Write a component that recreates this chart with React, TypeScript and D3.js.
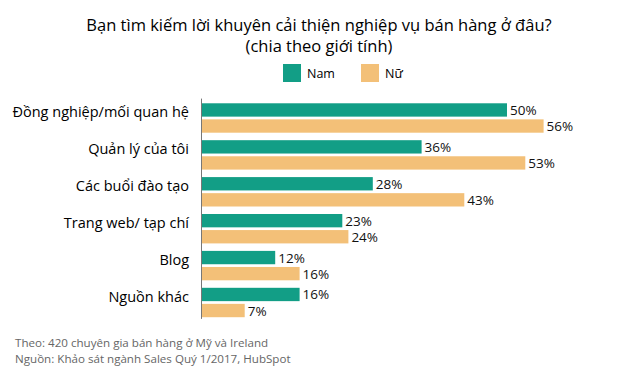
import React from "react";
import * as d3 from "d3";

const categories = [
  "Đồng nghiệp/mối quan hệ",
  "Quản lý của tôi",
  "Các buổi đào tạo",
  "Trang web/ tạp chí",
  "Blog",
  "Nguồn khác",
];
const series = ["Nam", "Nữ"];
const namValues = [50, 36, 28, 23, 12, 16];
const nuValues = [56, 53, 43, 24, 16, 7];
const colors = ["#129e86", "#f3c078"];

const titleLines = [
  "Bạn tìm kiếm lời khuyên cải thiện nghiệp vụ bán hàng ở đâu?",
  "(chia theo giới tính)",
];
const footerLines = [
  "Theo: 420 chuyên gia bán hàng ở Mỹ và Ireland",
  "Nguồn: Khảo sát ngành Sales Quý 1/2017, HubSpot",
];

const W = 630;
const H = 382;
const FONT = "'Open Sans', 'Noto Sans', sans-serif";

export default function App() {
  const x = d3.scaleLinear().domain([0, 100]).range([202, 812]);
  const y = d3
    .scaleBand<string>()
    .domain(categories)
    .range([99.6, 320.9])
    .paddingInner(0.203)
    .paddingOuter(0.1);
  const inner = d3
    .scaleBand<string>()
    .domain(series)
    .range([0, y.bandwidth()])
    .paddingInner(0.17);
  const values = [namValues, nuValues];

  return (
    <svg
      width={W}
      height={H}
      style={{ position: "absolute", left: 0, top: 0, background: "#fff" }}
      fontFamily={FONT}
    >
      <rect width={W} height={H} fill="#fff" />
      {titleLines.map((t, i) => (
        <text
          key={t}
          x={319}
          y={31 + i * 21}
          textAnchor="middle"
          fontSize={16.5}
          fill="#000"
        >
          {t}
        </text>
      ))}
      {series.map((s, i) => {
        const lx = [283, 361][i];
        return (
          <g key={s}>
            <rect x={lx} y={64} width={18} height={18} fill={colors[i]} />
            <text x={lx + 24} y={78} fontSize={12.5} fill="#000">
              {s}
            </text>
          </g>
        );
      })}
      {categories.map((c, ci) => {
        const top = y(c) as number;
        return (
          <g key={c}>
            <text
              x={189}
              y={top + 14}
              textAnchor="end"
              fontSize={14.5}
              fill="#000"
            >
              {c}
            </text>
            {series.map((s, si) => {
              const v = values[si][ci];
              const by = top + (inner(s) as number);
              const bh = inner.bandwidth();
              return (
                <g key={s}>
                  <rect
                    x={x(0)}
                    y={by}
                    width={x(v) - x(0)}
                    height={bh}
                    fill={colors[si]}
                  />
                  <text
                    x={x(v) + 3}
                    y={by + bh / 2 + 5}
                    fontSize={13.5}
                    fill="#111"
                  >
                    {v}%
                  </text>
                </g>
              );
            })}
          </g>
        );
      })}
      <line
        x1={201.5}
        x2={201.5}
        y1={y.range()[0] - 1}
        y2={y.range()[1] - 2}
        stroke="#777"
        strokeWidth={1}
      />
      {footerLines.map((t, i) => (
        <text key={t} x={15} y={347 + i * 16} fontSize={11.6} fill="#666">
          {t}
        </text>
      ))}
    </svg>
  );
}
